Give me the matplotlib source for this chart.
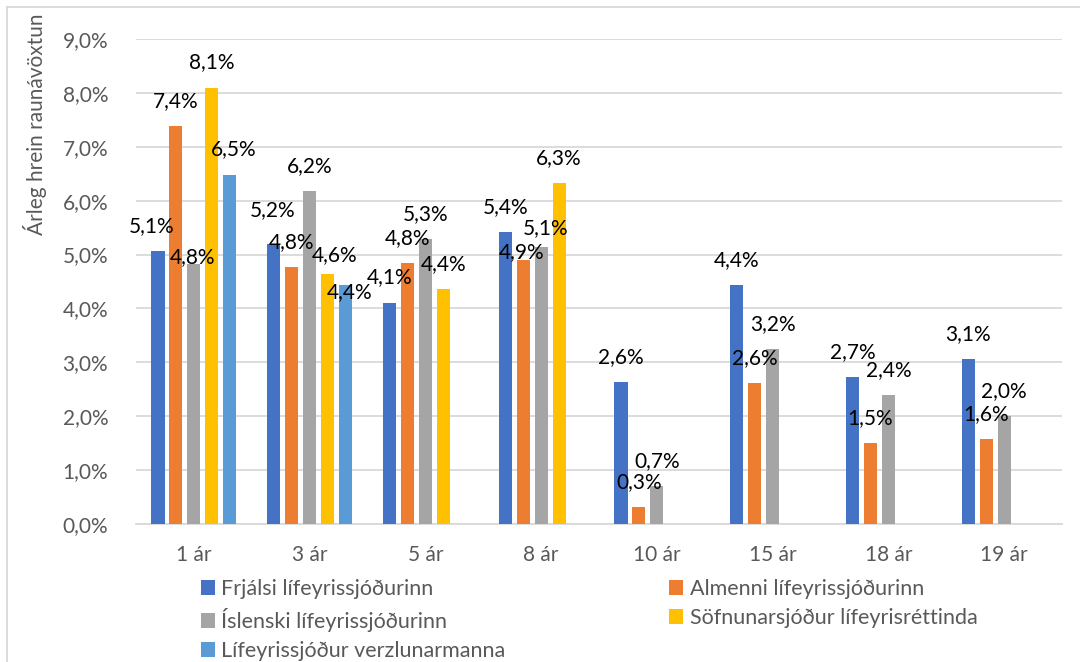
import numpy as np
import matplotlib
matplotlib.use("Agg")
import matplotlib.pyplot as plt
from matplotlib.lines import Line2D
from matplotlib.patches import Patch

plt.rcParams['font.family'] = ['Lato', 'DejaVu Sans']

categories = ["1 ár", "3 ár", "5 ár", "8 ár", "10 ár", "15 ár", "18 ár", "19 ár"]
series_names = ["Frjálsi lífeyrissjóðurinn", "Almenni lífeyrissjóðurinn",
                "Íslenski lífeyrissjóðurinn", "Söfnunarsjóður lífeyrisréttinda",
                "Lífeyrissjóður verzlunarmanna"]
nan = np.nan
frjalsi = [5.06, 5.19, 4.11, 5.41, 2.63, 4.44, 2.72, 3.06]
almenni = [7.38, 4.76, 4.84, 4.89, 0.31, 2.61, 1.50, 1.57]
islenski = [4.82, 6.18, 5.29, 5.14, 0.70, 3.24, 2.39, 2.00]
sofnunar = [8.10, 4.64, 4.36, 6.33, nan, nan, nan, nan]
verzlunar = [6.48, 4.44, nan, nan, nan, nan, nan, nan]
yticks = [0, 1, 2, 3, 4, 5, 6, 7, 8, 9]
ytick_labels = ["0,0%", "1,0%", "2,0%", "3,0%", "4,0%", "5,0%", "6,0%", "7,0%", "8,0%", "9,0%"]

series = [frjalsi, almenni, islenski, sofnunar, verzlunar]
colors = ["#4472C4", "#ED7D31", "#A5A5A5", "#FFC000", "#5B9BD5"]

# label nudges (pixels) for labels Excel moved: (category, series): (dx, dy)
default_off = (0, 25)
nudges = {
    (0, 0): (-6, 25), (0, 2): (-1, 7), (0, 4): (4, 26),
    (1, 0): (-1, 34), (1, 3): (7, 19), (1, 4): (4, -7),
    (3, 1): (-2, 8), (3, 2): (4, 19),
}

fig = plt.figure(figsize=(10.8, 6.62), dpi=100)
ax = fig.add_axes([136/1080, 1-524/662, (1062-136)/1080, (524-39)/662])

x = np.arange(len(categories))
step = 0.155
width = 0.113
for j, (vals, col) in enumerate(zip(series, colors)):
    pos = x + (j - 2) * step
    v = np.array(vals, dtype=float)
    ax.bar(pos, v, width, color=col, zorder=3)
    for i, val in enumerate(v):
        if np.isnan(val):
            continue
        dx, dy = nudges.get((i, j), default_off)
        ax.annotate(f"{val:.1f}".replace(".", ",") + "%", xy=(pos[i], val),
                    xytext=(dx, dy), textcoords="offset pixels",
                    ha="center", va="center", fontsize=15, color="#000000", zorder=5)

ax.set_xlim(-0.5, len(categories) - 0.5)
ax.set_ylim(0, 9)
ax.set_yticks(yticks)
ax.set_yticklabels(ytick_labels)
ax.set_xticks(x)
ax.set_xticklabels(categories)
ax.grid(axis="y", color="#D9D9D9", linewidth=1.3, zorder=0)
for s in ["top", "right", "left"]:
    ax.spines[s].set_visible(False)
ax.spines["bottom"].set_color("#D9D9D9")
ax.spines["bottom"].set_linewidth(1.3)
ax.tick_params(axis="both", length=0, colors="#595959", labelsize=15)
ax.tick_params(axis="y", pad=20)
ax.tick_params(axis="x", pad=15)

fig.text(35/1080, 1-124/662, "Árleg hrein raunávöxtun", rotation=90,
         ha="center", va="center", fontsize=15, color="#595959")

handles = [Patch(facecolor=c, edgecolor="none") for c in colors]
order = [0, 2, 4, 1, 3]
leg = fig.legend([handles[k] for k in order], [series_names[k] for k in order],
                 ncol=2, loc="upper left", bbox_to_anchor=(201/1080, 1-579/662),
                 frameon=False, fontsize=15.5, labelcolor="#595959",
                 handlelength=0.65, handleheight=0.65, handletextpad=0.3,
                 columnspacing=7.6, labelspacing=0.42, borderaxespad=0, borderpad=0)

# chart area border
fig.add_artist(Line2D([7/1080, 1], [1-7/662, 1-7/662], transform=fig.transFigure, color="#D9D9D9", linewidth=1.3))
fig.add_artist(Line2D([7/1080, 7/1080], [0, 1-7/662], transform=fig.transFigure, color="#D9D9D9", linewidth=1.3))

fig.savefig("out.png", dpi=100)
